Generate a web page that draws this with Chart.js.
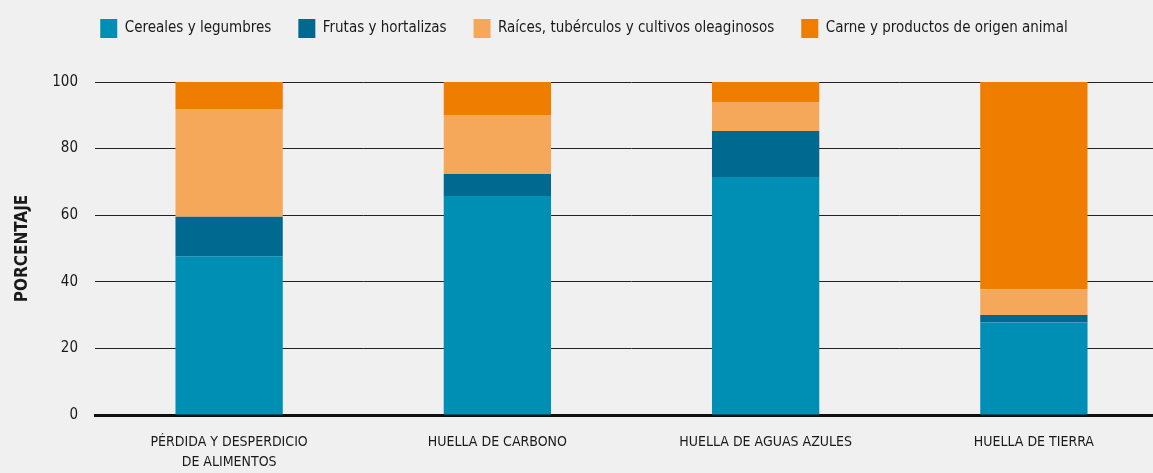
<!DOCTYPE html>
<html>
<head>
<meta charset="utf-8">
<script src="https://cdn.jsdelivr.net/npm/chart.js@4"></script>
<style>
    body { margin: 0; background: #f0f0f0; overflow: hidden; }
    #wrap { width: 1168px; height: 473px; }
</style>
</head>
<body>
<div id="wrap"><canvas id="chart01" width="1168" height="473"></canvas></div>
<script>
const categorias = [['PÉRDIDA Y DESPERDICIO', 'DE ALIMENTOS'], 'HUELLA DE CARBONO', 'HUELLA DE AGUAS AZULES', 'HUELLA DE TIERRA'];
const cereales = [47.7, 65.8, 71.5, 27.8];
const frutas = [11.8, 6.6, 13.8, 2.2];
const raices = [32.4, 17.7, 8.7, 7.8];
const carne = [8.1, 9.9, 6.0, 62.2];
const ticksY = [0, 20, 40, 60, 80, 100];

const fonte = "'Liberation Sans Narrow', 'DejaVu Sans Condensed', sans-serif";
const corTexto = '#1a1a1a';

// legenda: padding tambem mexe na vertical, entao a altura fica fixa aqui
const ajusteLegenda = {
    id: 'ajusteLegenda',
    afterInit(chart) {
        const fitOriginal = chart.legend.fit;
        chart.legend.fit = function () {
            fitOriginal.call(this);
            this.height = 90;
        };
    }
};

function serie(label, data, cor) {
    return {
        label: label,
        data: data,
        backgroundColor: cor,
        borderWidth: 0,
        barPercentage: 0.4,
        categoryPercentage: 1
    };
}

const ctx01 = document.getElementById('chart01');
const mainChart = new Chart(ctx01, {
    type: 'bar',
    data: {
        labels: categorias,
        datasets: [
            serie('Cereales y legumbres', cereales, '#008fb4'),
            serie('Frutas y hortalizas', frutas, '#006990'),
            serie('Raíces, tubérculos y cultivos oleaginosos', raices, '#f5a85a'),
            serie('Carne y productos de origen animal', carne, '#ef7d00')
        ]
    },
    plugins: [ajusteLegenda],
    options: {
        responsive: false,
        animation: false,
        layout: { padding: { top: -8, left: 0, right: 0, bottom: 0 } },
        plugins: {
            tooltip: { enabled: false },
            legend: {
                position: 'top',
                align: 'center',
                labels: {
                    boxWidth: 17,
                    boxHeight: 19,
                    padding: 27,
                    color: corTexto,
                    font: { family: fonte, size: 15 }
                }
            }
        },
        scales: {
            x: {
                stacked: true,
                grid: { display: false, drawTicks: false },
                border: { display: true, color: '#111', width: 3 },
                afterFit: (scale) => {
                    scale.height = 58;
                },
                ticks: {
                    color: corTexto,
                    padding: 17,
                    maxRotation: 0,
                    autoSkip: false,
                    font: { family: fonte, size: 14, lineHeight: 1.45 }
                }
            },
            y: {
                stacked: true,
                min: 0,
                max: 100,
                afterBuildTicks: (scale) => {
                    scale.ticks = ticksY.map(v => ({ value: v }));
                },
                afterFit: (scale) => {
                    scale.width = 95;
                },
                grid: { color: '#222', lineWidth: 1, drawTicks: false },
                border: { display: false },
                ticks: {
                    color: corTexto,
                    padding: 17,
                    font: { family: fonte, size: 15 }
                },
                title: {
                    display: true,
                    text: 'PORCENTAJE',
                    color: corTexto,
                    padding: { top: 12, bottom: 0 },
                    font: { family: fonte, size: 17, weight: 'bold' }
                }
            }
        }
    }
});
</script>
</body>
</html>
